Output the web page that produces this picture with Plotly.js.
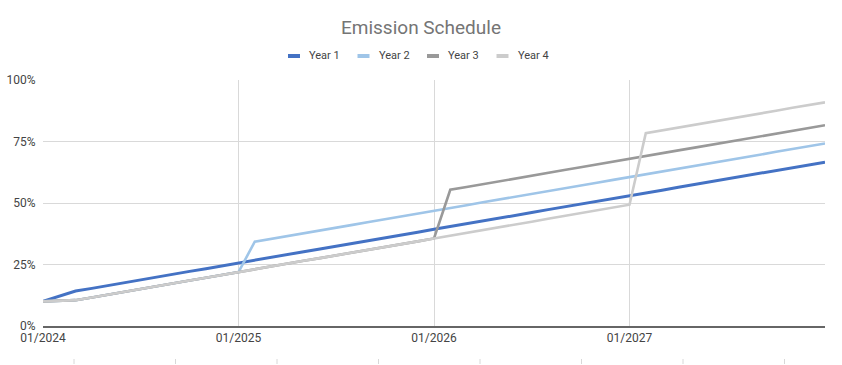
<!DOCTYPE html>
<html>
<head>
<meta charset="utf-8">
<script src="https://cdn.plot.ly/plotly-3.0.1.min.js"></script>
<style>html,body{margin:0;padding:0;background:#fff;}#chart{width:842px;height:365px;}</style>
</head>
<body>
<div id="chart"></div>
<script>
// Month labels 01/2024 .. 01/2028
const months = [
  "01/2024","02/2024","03/2024","04/2024","05/2024","06/2024","07/2024","08/2024","09/2024","10/2024","11/2024","12/2024",
  "01/2025","02/2025","03/2025","04/2025","05/2025","06/2025","07/2025","08/2025","09/2025","10/2025","11/2025","12/2025",
  "01/2026","02/2026","03/2026","04/2026","05/2026","06/2026","07/2026","08/2026","09/2026","10/2026","11/2026","12/2026",
  "01/2027","02/2027","03/2027","04/2027","05/2027","06/2027","07/2027","08/2027","09/2027","10/2027","11/2027","12/2027",
  "01/2028"
];
const tickLabels = ["01/2024","01/2025","01/2026","01/2027"];
const seriesNames = ["Year 1","Year 2","Year 3","Year 4"];

const year1 = [10.0,12.1,14.2,15.3,16.5,17.6,18.8,19.9,21.0,22.2,23.3,24.5,
  25.6,26.7,27.9,29.0,30.2,31.3,32.4,33.6,34.7,35.9,37.0,38.1,
  39.3,40.4,41.6,42.7,43.8,45.0,46.1,47.3,48.4,49.5,50.7,51.8,
  53.0,54.1,55.2,56.4,57.5,58.7,59.8,60.9,62.1,63.2,64.4,65.5,66.6];
const year2 = [10.0,10.2,10.5,11.6,12.8,13.9,15.1,16.2,17.3,18.5,19.6,20.8,
  21.9,34.3,35.4,36.6,37.7,38.9,40.0,41.1,42.3,43.4,44.6,45.7,
  46.8,48.0,49.1,50.3,51.4,52.5,53.7,54.8,56.0,57.1,58.2,59.4,
  60.5,61.7,62.8,63.9,65.1,66.2,67.4,68.5,69.6,70.8,71.9,73.1,74.2];
const year3 = [10.0,10.2,10.5,11.6,12.8,13.9,15.1,16.2,17.3,18.5,19.6,20.8,
  21.9,23.0,24.2,25.3,26.5,27.6,28.7,29.9,31.0,32.2,33.3,34.4,
  35.6,55.4,56.5,57.7,58.8,60.0,61.1,62.2,63.4,64.5,65.7,66.8,
  67.9,69.1,70.2,71.4,72.5,73.6,74.8,75.9,77.1,78.2,79.3,80.5,81.6];
const year4 = [10.0,10.2,10.5,11.6,12.8,13.9,15.1,16.2,17.3,18.5,19.6,20.8,
  21.9,23.0,24.2,25.3,26.5,27.6,28.7,29.9,31.0,32.2,33.3,34.4,
  35.6,36.7,37.9,39.0,40.1,41.3,42.4,43.6,44.7,45.8,47.0,48.1,
  49.3,78.4,79.5,80.7,81.8,83.0,84.1,85.2,86.4,87.5,88.7,89.8,90.9];

const seriesValues = [year1, year2, year3, year4];
const colors = ["#4472c4", "#9fc5e8", "#999999", "#cccccc"];
const widths = [3, 2.6, 2.6, 2.6];

const traces = seriesValues.map((vals, i) => ({
  type: "scatter", mode: "lines", name: seriesNames[i],
  x: months, y: vals,
  line: {color: colors[i], width: widths[i]},
  showlegend: false, hoverinfo: "skip"
}));

// geometry helpers (plot area in pixels)
const L = 43, R = 825, T = 80, B = 326;
const px = x => (x - L) / (R - L);
const py = y => (B - y) / (B - T);

const shapes = [];
const annotations = [];
// manual legend
const legendY = 56;
const legendStart = 288;
const legendStep = 69.5;
seriesNames.forEach((name, i) => {
  const x0 = legendStart + i * legendStep;
  shapes.push({type: "line", xref: "paper", yref: "paper",
    x0: px(x0), x1: px(x0 + 12), y0: py(legendY), y1: py(legendY),
    line: {color: colors[i], width: 4}});
  annotations.push({xref: "paper", yref: "paper", x: px(x0 + 19), y: py(legendY),
    xanchor: "left", yanchor: "middle", showarrow: false, text: name,
    font: {family: "Roboto, sans-serif", size: 11, color: "#444"}});
});
// faint cell-border ticks at the bottom
for (let k = 0; k < 8; k++) {
  const x = 74 + k * 101.5;
  shapes.push({type: "line", xref: "paper", yref: "paper",
    x0: px(x), x1: px(x), y0: py(359), y1: py(364),
    line: {color: "#d8d8d8", width: 1}});
}

const layout = {
  width: 842, height: 365,
  margin: {l: L, r: 842 - R, t: T, b: 365 - B, pad: 0},
  paper_bgcolor: "#ffffff", plot_bgcolor: "#ffffff",
  font: {family: "Roboto, sans-serif", color: "#444"},
  title: {text: "Emission Schedule", x: 0.5, xanchor: "center", y: 1 - 27 / 365, yanchor: "middle",
    font: {family: "Roboto, sans-serif", size: 19, color: "#757575"}},
  xaxis: {
    type: "category", range: [0, months.length - 1],
    tickmode: "array", tickvals: tickLabels, ticktext: tickLabels,
    showgrid: true, gridcolor: "#d9d9d9", gridwidth: 1,
    showline: true, linecolor: "#666", linewidth: 1.6,
    ticks: "", zeroline: false,
    tickfont: {family: "Roboto, sans-serif", size: 12, color: "#444"}
  },
  yaxis: {
    range: [0, 100], tickmode: "array", tickvals: [0, 25, 50, 75, 100],
    ticktext: ["0%", "25%", "50%", "75%", "100%"],
    showgrid: true, gridcolor: "#d9d9d9", gridwidth: 1,
    zeroline: false, showline: false,
    ticks: "outside", ticklen: 4, tickcolor: "rgba(0,0,0,0)",
    tickfont: {family: "Roboto, sans-serif", size: 12, color: "#444"}
  },
  showlegend: false,
  shapes: shapes,
  annotations: annotations
};

Plotly.newPlot("chart", traces, layout, {displayModeBar: false, staticPlot: true});
</script>
</body>
</html>
